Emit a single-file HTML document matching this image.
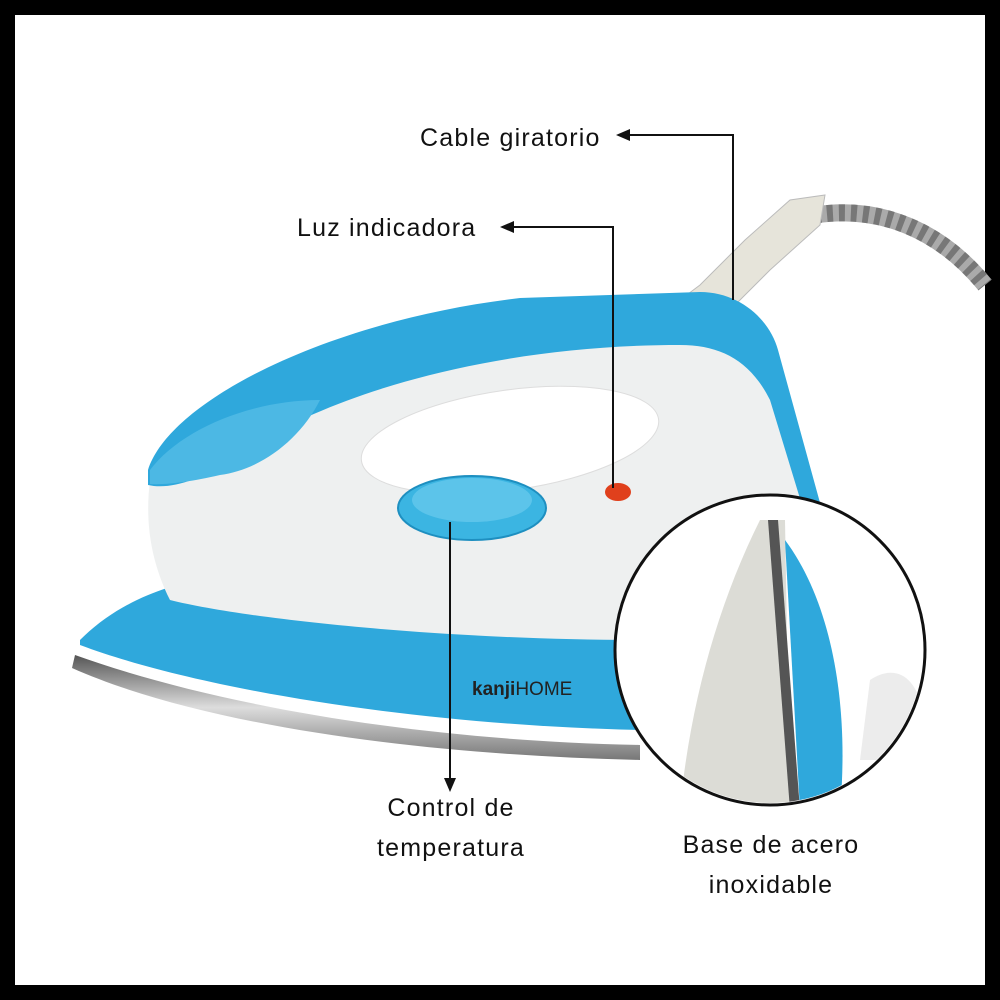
<!DOCTYPE html>
<html><head><meta charset="utf-8"><style>
html,body{margin:0;padding:0;background:#000;}
svg{display:block}
text{font-family:"Liberation Sans","DejaVu Sans",sans-serif;fill:#111;font-size:25px;letter-spacing:1.2px}
</style></head><body>
<svg width="1000" height="1000" viewBox="0 0 1000 1000" xmlns="http://www.w3.org/2000/svg">
<defs>
<marker id="ah" markerWidth="8" markerHeight="8" refX="4" refY="4" orient="auto"><path d="M0,1 L7,4 L0,7 Z" fill="#111"/></marker>
<clipPath id="cc"><circle cx="770" cy="650" r="153"/></clipPath>
<linearGradient id="steel" x1="0" y1="0" x2="0" y2="1"><stop offset="0" stop-color="#555"/><stop offset=".5" stop-color="#ddd"/><stop offset="1" stop-color="#777"/></linearGradient>
</defs>
<rect x="15" y="15" width="970" height="970" fill="#fff"/>
<!-- cable -->
<path d="M815,215 C880,205 940,230 985,285" stroke="#aaa" stroke-width="17" fill="none"/>
<path d="M815,215 C880,205 940,230 985,285" stroke="#777" stroke-width="17" fill="none" stroke-dasharray="6 6"/>
<path d="M680,300 L700,285 L745,240 L790,200 L825,195 L820,225 L770,270 L735,305 Z" fill="#e6e4da" stroke="#bbb"/>
<!-- steel base -->
<path d="M75,655 C200,700 400,740 640,745 L640,760 C420,755 200,725 72,668 Z" fill="url(#steel)"/>
<!-- blue base -->
<path d="M80,640 C120,600 170,585 200,580 L640,560 L640,730 C420,725 200,690 80,645 Z" fill="#2fa8dc"/>
<!-- white body -->
<path d="M150,480 C180,420 350,340 600,320 L720,330 L780,400 L820,540 L640,600 L640,640 C450,640 250,620 170,600 C150,560 145,520 150,480 Z" fill="#eef0f0"/>
<!-- blue top shell -->
<path d="M148,470 C170,400 330,320 520,298 L700,292 C740,292 770,320 778,350 L822,510 L805,515 L770,400 C750,360 720,345 680,345 C500,345 330,390 230,460 C200,480 170,490 148,485 Z" fill="#2fa8dc"/>
<path d="M150,470 C180,430 250,400 320,400 C300,440 260,470 220,475 C190,482 165,485 150,484 Z" fill="#4cb8e4"/>
<!-- handle hole -->
<ellipse cx="510" cy="440" rx="150" ry="50" fill="#fff" stroke="#ddd" transform="rotate(-8 510 440)"/>
<!-- dial -->
<ellipse cx="472" cy="508" rx="74" ry="32" fill="#3bb5e2" stroke="#1e8fc0" stroke-width="2"/>
<ellipse cx="472" cy="500" rx="60" ry="22" fill="#5cc4ea"/>
<!-- light -->
<ellipse cx="618" cy="492" rx="13" ry="9" fill="#e0401c"/>
<text x="472" y="695" style="font-size:19px;font-weight:bold;fill:#222;letter-spacing:0">kanji<tspan style="font-weight:normal">HOME</tspan></text>
<!-- inset circle -->
<circle cx="770" cy="650" r="155" fill="#fff"/>
<g clip-path="url(#cc)">
<path d="M760,520 C720,600 690,700 680,810 L790,810 L785,520 Z" fill="#dcdcd6"/>
<path d="M768,520 L790,810 L800,810 L778,520 Z" fill="#555"/>
<path d="M785,540 C830,600 850,700 840,810 L800,810 Z" fill="#2fa8dc"/>
<path d="M870,680 C900,660 930,680 925,760 L860,760 Z" fill="#ececec"/>
</g>
<circle cx="770" cy="650" r="155" fill="none" stroke="#111" stroke-width="3"/>
<!-- connectors -->
<polyline points="733,300 733,135 622,135" fill="none" stroke="#111" stroke-width="2" marker-end="url(#ah)"/>
<polyline points="613,488 613,227 506,227" fill="none" stroke="#111" stroke-width="2" marker-end="url(#ah)"/>
<line x1="450" y1="522" x2="450" y2="786" stroke="#111" stroke-width="2" marker-end="url(#ah)"/>
<!-- labels -->
<text x="420" y="146">Cable giratorio</text>
<text x="297" y="236">Luz indicadora</text>
<text x="451" y="816" text-anchor="middle">Control de</text>
<text x="451" y="856" text-anchor="middle">temperatura</text>
<text x="771" y="853" text-anchor="middle">Base de acero</text>
<text x="771" y="893" text-anchor="middle">inoxidable</text>
</svg>
</body></html>
